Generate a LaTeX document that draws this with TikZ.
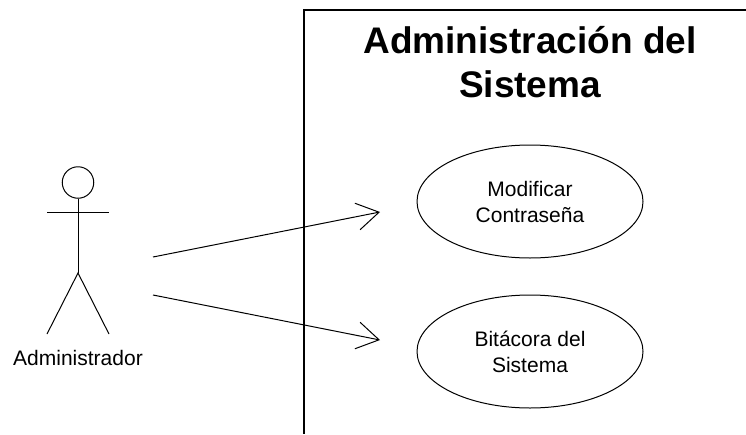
\documentclass[tikz,border=0pt]{standalone}
\usepackage{fontspec}
\setmainfont{Liberation Sans}
\usetikzlibrary{shapes.geometric,arrows.meta}
\tikzset{
  ln/.style={line width=1pt,black},
  frameln/.style={line width=1.8pt,black},
  usecase/.style={ellipse,draw,line width=1pt,minimum width=226pt,minimum height=113pt,inner sep=0pt,align=center,font=\fontsize{21}{26}\selectfont},
  conn/.style={ln,-{Straight Barb[length=22pt,width=27pt,line width=1pt]}},
}
\begin{document}
\begin{tikzpicture}[x=1pt,y=-1pt]
\useasboundingbox (0,0) rectangle (746,434);
\coordinate (ftop) at (304,10);
\coordinate (fright) at (746,10);
\coordinate (fbot) at (304,434);
\draw[frameln] (fright) -- (ftop) -- (fbot);
\node[font=\bfseries\fontsize{37}{44}\selectfont,align=center] (title) at (530,62) {Administración del\\Sistema};
\node[usecase] (uc1) at (530,201.5) {Modificar\\Contraseña};
\node[usecase] (uc2) at (530,351.5) {Bitácora del\\Sistema};
\node[circle,draw,line width=1pt,minimum size=31.5pt,inner sep=0pt] (head) at (78,182.5) {};
\coordinate (hip) at (78,273);
\coordinate (armL) at (47,212.7);
\coordinate (armR) at (109,212.7);
\coordinate (legL) at (47,334);
\coordinate (legR) at (109,334);
\draw[ln] (head.south) -- (hip);
\draw[ln] (armL) -- (armR);
\draw[ln] (legL) -- (hip) -- (legR);
\node[font=\fontsize{21}{25}\selectfont] (actor) at (78,358) {Administrador};
\coordinate (s1) at (153,257);
\coordinate (e1) at (380,212);
\coordinate (s2) at (153,295);
\coordinate (e2) at (380,340);
\draw[conn] (s1) -- (e1);
\draw[conn] (s2) -- (e2);
\end{tikzpicture}
\end{document}
